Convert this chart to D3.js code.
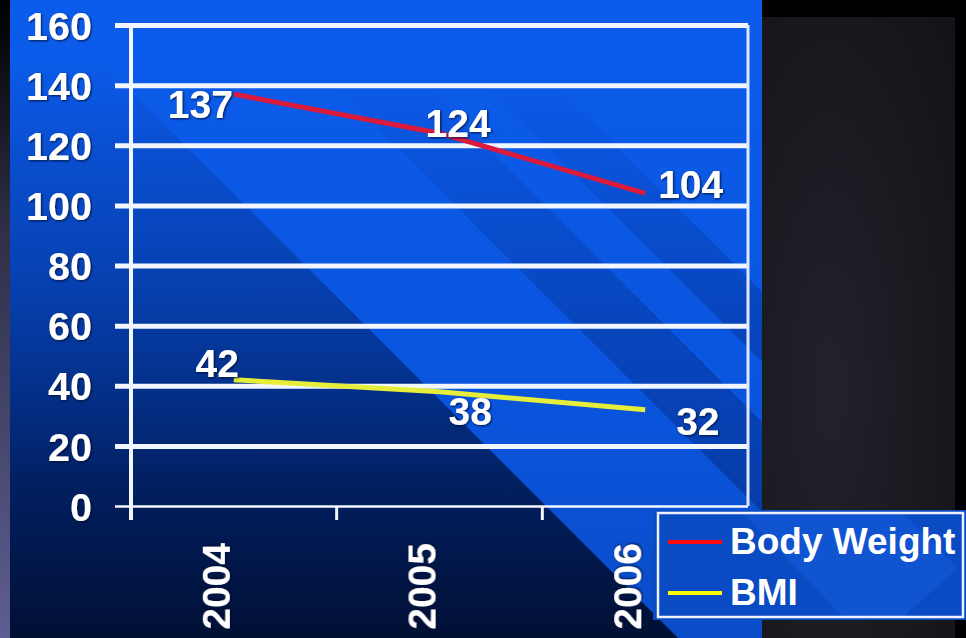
<!DOCTYPE html>
<html>
<head>
<meta charset="utf-8">
<script src="https://cdn.jsdelivr.net/npm/d3@7"></script>
<style>
  html, body { margin: 0; padding: 0; background: #000; }
  svg { display: block; }
  text { font-family: 'Liberation Sans', Arial, sans-serif; font-weight: bold; fill: #fff; }
</style>
</head>
<body>
<svg id="chart" width="966" height="638"></svg>
<script>
// data
const years = ['2004', '2005', '2006'];
const bodyWeight = [137, 124, 104];
const bmi = [42, 38, 32];
const yTicks = [0, 20, 40, 60, 80, 100, 120, 140, 160];
const seriesNames = ['Body Weight', 'BMI'];

// label placement per point: [dx, dy, anchor]
const weightLabelPos = [[-1, 24, 'end'], [-14, 4, 'start'], [13, 5, 'start']];
const bmiLabelPos = [[5, -3, 'end'], [9, 33, 'start'], [31, 25, 'start']];

const lineColors = ['#dc1a3c', '#e6ee3a'];
const legendColors = ['#ff0a0a', '#ffff00'];

const W = 966, H = 638;
const margin = { left: 131, right: 218, top: 25, bottom: 132 };

const svg = d3.select('#chart');
const defs = svg.append('defs');

// ---- backdrop ----
const sideGrad = defs.append('linearGradient').attr('id', 'side').attr('x1', 0).attr('y1', 0).attr('x2', 0).attr('y2', 1);
sideGrad.append('stop').attr('offset', '0').attr('stop-color', '#000');
sideGrad.append('stop').attr('offset', '0.35').attr('stop-color', '#2e2e46');
sideGrad.append('stop').attr('offset', '1').attr('stop-color', '#5e5e92');

const darkGrad = defs.append('radialGradient').attr('id', 'darkside')
  .attr('cx', 0.35).attr('cy', 0.6).attr('r', 0.9);
darkGrad.append('stop').attr('offset', '0').attr('stop-color', '#22222b');
darkGrad.append('stop').attr('offset', '1').attr('stop-color', '#121217');

const blueGrad = defs.append('linearGradient').attr('id', 'blue').attr('x1', 0).attr('y1', 0).attr('x2', 0).attr('y2', 1);
blueGrad.append('stop').attr('offset', '0').attr('stop-color', '#0c5cec');
blueGrad.append('stop').attr('offset', '0.6').attr('stop-color', '#0a55de');
blueGrad.append('stop').attr('offset', '1').attr('stop-color', '#0a4cc8');

const shadeGrad = defs.append('linearGradient').attr('id', 'shade').attr('gradientUnits', 'userSpaceOnUse')
  .attr('x1', 0).attr('y1', 60).attr('x2', 0).attr('y2', 638);
shadeGrad.append('stop').attr('offset', '0').attr('stop-color', '#001a60').attr('stop-opacity', 0);
shadeGrad.append('stop').attr('offset', '0.35').attr('stop-color', '#00226e').attr('stop-opacity', 0.38);
shadeGrad.append('stop').attr('offset', '0.75').attr('stop-color', '#001548').attr('stop-opacity', 0.85);
shadeGrad.append('stop').attr('offset', '1').attr('stop-color', '#000e30').attr('stop-opacity', 0.97);

const stripeGrad = defs.append('linearGradient').attr('id', 'stripe').attr('gradientUnits', 'userSpaceOnUse')
  .attr('x1', 0).attr('y1', 80).attr('x2', 0).attr('y2', 638);
stripeGrad.append('stop').attr('offset', '0').attr('stop-color', '#002070').attr('stop-opacity', 0);
stripeGrad.append('stop').attr('offset', '0.4').attr('stop-color', '#002070').attr('stop-opacity', 0.3);
stripeGrad.append('stop').attr('offset', '1').attr('stop-color', '#001a5a').attr('stop-opacity', 0.45);

defs.append('clipPath').attr('id', 'panel').append('rect')
  .attr('x', 10).attr('y', 0).attr('width', 752).attr('height', H);

const shadow = defs.append('filter').attr('id', 'tshadow').attr('x', '-20%').attr('y', '-20%').attr('width', '140%').attr('height', '140%');
shadow.append('feDropShadow').attr('dx', 1).attr('dy', 1).attr('stdDeviation', 1.2)
  .attr('flood-color', '#000a30').attr('flood-opacity', 0.9);

svg.append('rect').attr('width', W).attr('height', H).attr('fill', '#000');
svg.append('rect').attr('x', 0).attr('y', 0).attr('width', 10).attr('height', H).attr('fill', 'url(#side)');
svg.append('rect').attr('x', 762).attr('y', 17).attr('width', 193).attr('height', H - 17).attr('fill', 'url(#darkside)');

const bg = svg.append('g').attr('clip-path', 'url(#panel)');
bg.append('rect').attr('x', 10).attr('y', 0).attr('width', 752).attr('height', H).attr('fill', 'url(#blue)');
// diagonal bands, lines of the form x = y + u
const band = (u0, u1) => `M${u0 - 100},-100 L${u1 - 100},-100 L${u1 + 800},800 L${u0 + 800},800 Z`;
bg.append('path').attr('d', band(-900, 40)).attr('fill', 'url(#shade)');
bg.append('path').attr('d', band(250, 340)).attr('fill', 'url(#stripe)');
bg.append('path').attr('d', band(400, 470)).attr('fill', 'url(#stripe)');

// ---- scales ----
const x = d3.scaleBand().domain(years).range([margin.left, W - margin.right]);
const y = d3.scaleLinear().domain([0, 160]).range([H - margin.bottom, margin.top]);
const cx = d => x(d) + x.bandwidth() / 2;
const x0 = margin.left, x1 = W - margin.right;

// ---- grid + y axis ----
const yAxis = svg.append('g')
  .attr('transform', `translate(${x0 - 16},0)`)
  .call(d3.axisLeft(y).tickValues(yTicks).tickSize(-(x1 - x0 + 16)).tickPadding(23).tickSizeOuter(0));
yAxis.select('.domain').remove();
yAxis.selectAll('.tick line')
  .attr('stroke', '#f2f6ff')
  .attr('stroke-width', d => d === 0 ? 2.5 : 5);
yAxis.selectAll('.tick text')
  .attr('font-size', 39.5)
  .attr('dy', '0.36em')
  .attr('filter', 'url(#tshadow)')
  .style('font-family', "'Liberation Sans', Arial, sans-serif")
  .style('font-weight', 'bold')
  .attr('fill', '#fff');

// vertical frame lines
svg.append('line').attr('x1', x0).attr('x2', x0).attr('y1', y(160)).attr('y2', y(0) + 14)
  .attr('stroke', '#f2f6ff').attr('stroke-width', 4);
svg.append('line').attr('x1', x1).attr('x2', x1).attr('y1', y(160)).attr('y2', y(0))
  .attr('stroke', '#dfe8ff').attr('stroke-width', 3);

// x ticks at band edges
svg.selectAll('.xtick').data(years.slice(1)).enter().append('line')
  .attr('class', 'xtick')
  .attr('x1', d => x(d)).attr('x2', d => x(d))
  .attr('y1', y(0)).attr('y2', y(0) + 14)
  .attr('stroke', '#f2f6ff').attr('stroke-width', 3);

svg.selectAll('.xlab').data(years).enter().append('text')
  .attr('class', 'xlab')
  .attr('transform', d => `translate(${cx(d) - 4},${y(0) + 37}) rotate(-90)`)
  .attr('text-anchor', 'end')
  .attr('font-size', 39)
  .attr('filter', 'url(#tshadow)')
  .text(d => d);

// ---- lines ----
const line = d3.line().x((d, i) => cx(years[i])).y(d => y(d));
[bodyWeight, bmi].forEach((vals, k) => {
  svg.append('path').datum(vals)
    .attr('d', line)
    .attr('fill', 'none')
    .attr('stroke', lineColors[k])
    .attr('stroke-width', 5)
    .attr('stroke-linecap', 'butt');
});

// ---- value labels ----
function labels(vals, pos) {
  svg.append('g').selectAll('text').data(vals).enter().append('text')
    .attr('x', (d, i) => cx(years[i]) + pos[i][0])
    .attr('y', (d, i) => y(d) + pos[i][1])
    .attr('text-anchor', (d, i) => pos[i][2])
    .attr('font-size', 39)
    .attr('filter', 'url(#tshadow)')
    .text(d => d);
}
labels(bodyWeight, weightLabelPos);
labels(bmi, bmiLabelPos);

// ---- legend ----
const lg = svg.append('g').attr('transform', 'translate(653,510)');
lg.append('rect').attr('width', 313).attr('height', 110).attr('fill', '#0a4ac2');
lg.append('path').attr('d', 'M90,3 L250,3 L305,58 L250,107 L190,107 Z').attr('fill', '#1a62e6').attr('opacity', 0.45);
lg.append('rect').attr('x', 5).attr('y', 3).attr('width', 305).attr('height', 104)
  .attr('fill', 'none').attr('stroke', '#eef3ff').attr('stroke-width', 2.5);
seriesNames.forEach((name, k) => {
  const yy = 32 + k * 51;
  lg.append('line').attr('x1', 15).attr('x2', 69).attr('y1', yy).attr('y2', yy)
    .attr('stroke', legendColors[k]).attr('stroke-width', 4);
  lg.append('text').attr('x', 77).attr('y', yy + 12).attr('font-size', 37)
    .text(name);
});
</script>
</body>
</html>
